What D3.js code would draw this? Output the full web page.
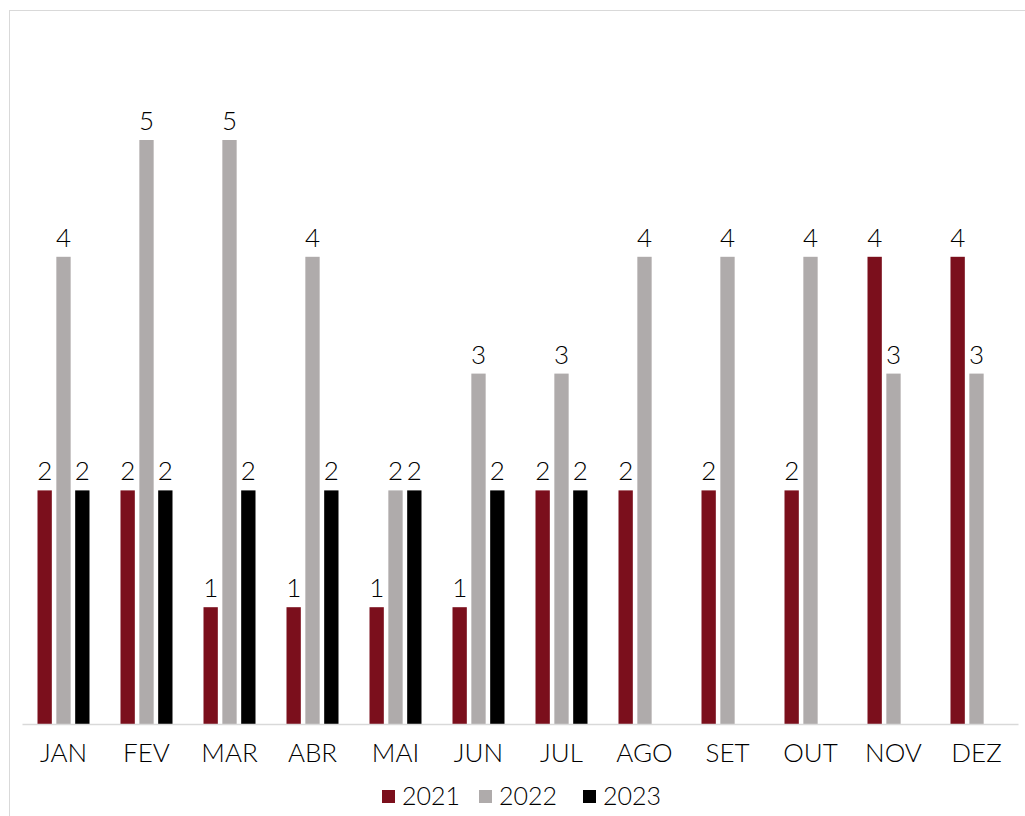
<!DOCTYPE html>
<html>
<head>
<meta charset="utf-8">
<script src="https://cdn.jsdelivr.net/npm/d3@7"></script>
<style>
  body { margin: 0; background: #fff; }
  text { font-family: Lato, sans-serif; font-weight: 300; fill: #000; }
</style>
</head>
<body>
<svg id="chart" width="1025" height="816"></svg>
<script>
var months = ["JAN", "FEV", "MAR", "ABR", "MAI", "JUN", "JUL", "AGO", "SET", "OUT", "NOV", "DEZ"],
    years = ["2021", "2022", "2023"],
    colors = ["#7b0f1c", "#afabab", "#000000"];

var values2021 = [2, 2, 1, 1, 1, 1, 2, 2, 2, 2, 4, 4],
    values2022 = [4, 5, 5, 4, 2, 3, 3, 4, 4, 4, 3, 3],
    values2023 = [2, 2, 2, 2, 2, 2, 2, null, null, null, null, null];

var series = [values2021, values2022, values2023];

var svg = d3.select("#chart");

// outer frame
svg.append("rect")
    .attr("x", 9.5).attr("y", 10.5)
    .attr("width", 1030).attr("height", 820)
    .attr("fill", "none").attr("stroke", "#d9d9d9");

var x = d3.scaleBand().domain(months).range([22, 1018]).paddingInner(0).paddingOuter(0),
    sub = d3.scaleBand().domain(years).range([0, 52]).paddingInner(0.24),
    y = d3.scaleLinear().domain([0, 5]).range([724, 140]);

function cells(m, i) {
  return years.map(function(yr, j) { return {year: yr, j: j, v: series[j][i]}; })
    .filter(function(d) { return d.v != null; });
}

var groups = svg.append("g").selectAll("g")
  .data(months)
  .join("g")
    .attr("transform", function(d) { return "translate(" + (x(d) + (x.bandwidth() - 52) / 2) + ",0)"; });

groups.selectAll("rect")
  .data(cells)
  .join("rect")
    .attr("x", function(d) { return sub(d.year); })
    .attr("y", function(d) { return y(d.v); })
    .attr("width", sub.bandwidth())
    .attr("height", function(d) { return y(0) - y(d.v); })
    .attr("fill", function(d) { return colors[d.j]; });

groups.selectAll("text")
  .data(cells)
  .join("text")
    .attr("x", function(d) { return sub(d.year) + sub.bandwidth() / 2; })
    .attr("y", function(d) { return y(d.v) - 10; })
    .attr("text-anchor", "middle")
    .style("font-size", "26px")
    .text(function(d) { return d.v; });

// baseline + month labels
var axis = svg.append("g")
    .attr("transform", "translate(0," + y(0) + ")")
    .call(d3.axisBottom(x).tickSize(0).tickPadding(20));
axis.select(".domain").attr("stroke", "#d9d9d9").attr("stroke-width", 1.5);
axis.selectAll("text")
    .style("font-family", "Lato, sans-serif")
    .style("font-weight", 300)
    .style("font-size", "26px")
    .attr("fill", "#000");

// legend
var legendX = [382, 479, 583];
var legend = svg.append("g").selectAll("g")
  .data(years)
  .join("g")
    .attr("transform", function(d, i) { return "translate(" + legendX[i] + ",790)"; });
legend.append("rect")
    .attr("width", 13).attr("height", 13)
    .attr("fill", function(d, i) { return colors[i]; });
legend.append("text")
    .attr("x", 20).attr("y", 15)
    .style("font-size", "25px")
    .text(function(d) { return d; });
</script>
</body>
</html>
